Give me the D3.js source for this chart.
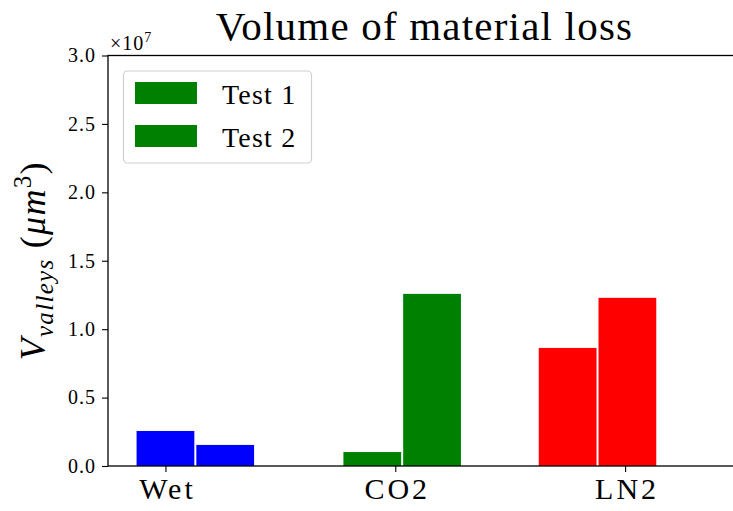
<!DOCTYPE html>
<html><head><meta charset="utf-8">
<script src="https://cdn.jsdelivr.net/npm/d3@7"></script>
</head><body style="margin:0;background:#fff"><svg id="c" width="733" height="511" font-family="Liberation Serif" style="display:block"></svg>
<script>
const categories = ["Wet", "CO2", "LN2"];
const barStart = [-0.13, 0.77, 1.62];
const test1 = [2.56e6, 1.02e6, 8.63e6];
const test2 = [1.54e6, 12.58e6, 12.29e6];
const colors = ["blue", "green", "red"];
const yTicks = [0, 0.5e7, 1.0e7, 1.5e7, 2.0e7, 2.5e7, 3.0e7];
const seriesNames = ["Test 1", "Test 2"];

const FF = "Liberation Serif";
const svg = d3.select("#c");
const L = 108, R = 740, T = 55.5, B = 466;
const x = d3.scaleLinear().domain([-0.25, 2.5]).range([L, R]);
const y = d3.scaleLinear().domain([0, 3e7]).range([B, T]);
const bw = 0.26;

const bars = [];
categories.forEach((c, i) => {
  bars.push({x: barStart[i], v: test1[i], col: colors[i]});
  bars.push({x: barStart[i] + bw, v: test2[i], col: colors[i]});
});
svg.append("g").selectAll("rect").data(bars).join("rect")
  .attr("x", d => x(d.x) + 1)
  .attr("width", d => x(d.x + bw) - x(d.x) - 2)
  .attr("y", d => y(d.v))
  .attr("height", d => y(0) - y(d.v))
  .attr("fill", d => d.col);

// frame
svg.append("rect").attr("x", L).attr("y", T).attr("width", R - L).attr("height", B - T)
  .attr("fill", "none").attr("stroke", "#000").attr("stroke-width", 1.3);

// y axis
const ya = svg.append("g").attr("transform", `translate(${L},0)`)
  .call(d3.axisLeft(y).tickValues(yTicks).tickSize(6).tickPadding(6).tickFormat(d => (d / 1e7).toFixed(1)));
ya.attr("font-family", FF).attr("font-size", 20);
ya.select(".domain").remove();
ya.selectAll("line").attr("stroke-width", 1.1);
ya.selectAll("text").attr("font-family", FF).attr("letter-spacing", 1);

// x axis
const xa = svg.append("g").attr("transform", `translate(0,${B})`)
  .call(d3.axisBottom(x).tickValues([0, 1, 2]).tickSize(6).tickPadding(6).tickFormat(i => categories[i]));
xa.attr("font-family", FF).attr("font-size", 30);
xa.select(".domain").remove();
xa.selectAll("line").attr("stroke-width", 1.1);
xa.selectAll("text").attr("font-family", FF).attr("letter-spacing", 3).attr("dx", 1.5);

// multiplier
const m = svg.append("text").attr("x", 110).attr("y", 50).attr("font-size", 20).attr("font-family", FF).attr("letter-spacing", 1);
m.append("tspan").text("×10");
m.append("tspan").attr("dy", -8).attr("font-size", 14).text("7");

// title
svg.append("text").attr("x", 424.5).attr("y", 40).attr("text-anchor", "middle")
  .attr("font-size", 41).attr("font-family", FF).attr("letter-spacing", 1.2).text("Volume of material loss");

// y label
const yl = svg.append("text").attr("transform", `translate(45,${(T + B) / 2}) rotate(-90)`)
  .attr("text-anchor", "middle").attr("font-size", 36).attr("font-family", FF).attr("letter-spacing", 1.3);
yl.append("tspan").attr("font-style", "italic").text("V");
yl.append("tspan").attr("dy", 8).attr("font-style", "italic").attr("font-size", 25).text("valleys");
yl.append("tspan").attr("dy", -8).text(" (");
yl.append("tspan").attr("font-style", "italic").text("μm");
yl.append("tspan").attr("dy", -14).attr("font-size", 25).text("3");
yl.append("tspan").attr("dy", 14).text(")");

// legend
const lg = svg.append("g");
lg.append("rect").attr("x", 123.5).attr("y", 71).attr("width", 188).attr("height", 92).attr("rx", 4)
  .attr("fill", "#fff").attr("fill-opacity", 0.8).attr("stroke", "#d0d0d0").attr("stroke-width", 1.2);
seriesNames.forEach((s, i) => {
  const yy = 82 + i * 43;
  lg.append("rect").attr("x", 135).attr("y", yy).attr("width", 62).attr("height", 22).attr("fill", "green");
  lg.append("text").attr("x", 222).attr("y", yy + 22).attr("font-size", 28).attr("font-family", FF)
    .attr("letter-spacing", 1.2).text(s);
});
</script></body></html>
